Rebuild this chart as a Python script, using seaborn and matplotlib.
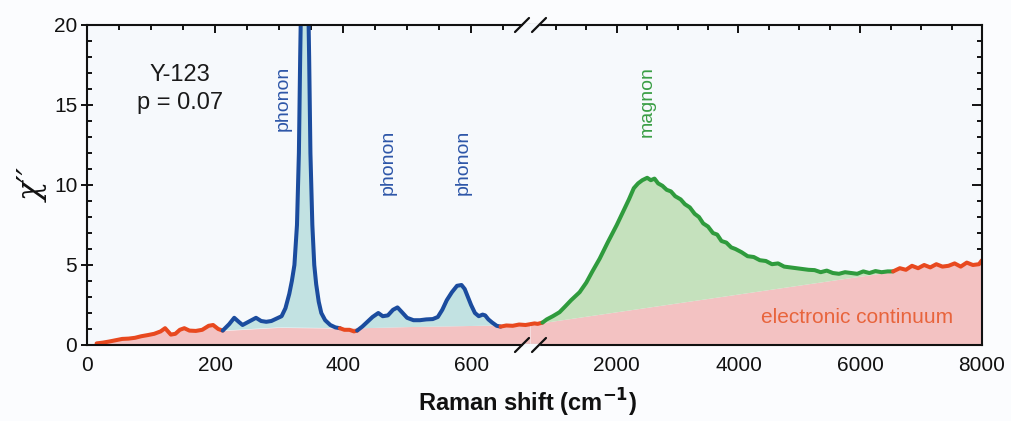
import numpy as np
import matplotlib
matplotlib.use("Agg")
import matplotlib.pyplot as plt
from matplotlib.lines import Line2D
from matplotlib.ticker import MultipleLocator
import seaborn as sns

# ---- data (Raman shift in cm-1, chi'') ----
# low-energy part (0 - 700 cm-1)
red1_x = [15, 25, 35, 45, 55, 65, 75, 85, 95, 105, 115, 122, 131, 138, 145, 152, 160, 170, 180, 190, 197, 205, 212]
red1_y = [0.10, 0.15, 0.22, 0.30, 0.38, 0.40, 0.45, 0.55, 0.62, 0.70, 0.85, 1.05, 0.65, 0.70, 0.95, 1.05, 0.90, 0.88, 0.95, 1.20, 1.25, 1.00, 0.90]

blue1_x = [212, 222, 230, 237, 243, 250, 257, 264, 272, 280, 288, 296, 304, 310, 316, 320, 324, 328, 331, 333,
           335, 340, 345, 347, 349, 352, 355, 358, 362, 366, 372, 380, 388, 395]
blue1_y = [0.90, 1.30, 1.70, 1.45, 1.25, 1.40, 1.55, 1.70, 1.50, 1.45, 1.50, 1.65, 1.80, 2.30, 3.20, 4.00, 5.00, 7.50, 12.0, 18.0,
           23.0, 28.0, 23.0, 18.0, 12.0, 7.50, 5.00, 3.80, 2.70, 2.00, 1.55, 1.25, 1.10, 1.05]

red2_x = [395, 402, 410, 417, 422]
red2_y = [1.05, 0.95, 0.95, 0.85, 0.90]

blue2_x = [422, 430, 438, 446, 455, 462, 470, 478, 485, 492, 500, 510, 520, 530, 540, 548, 555, 562, 570, 578,
           585, 590, 595, 600, 606, 612, 618, 622, 627, 633, 640, 646]
blue2_y = [0.90, 1.15, 1.45, 1.75, 2.00, 1.80, 1.85, 2.20, 2.35, 2.05, 1.70, 1.55, 1.55, 1.60, 1.62, 1.75, 2.20, 2.80, 3.30, 3.70,
           3.75, 3.50, 3.00, 2.50, 2.00, 1.80, 1.90, 1.85, 1.60, 1.40, 1.20, 1.15]

red3_x = [646, 655, 665, 675, 685, 695, 700]
red3_y = [1.15, 1.22, 1.20, 1.28, 1.25, 1.32, 1.30]

# electronic continuum under the phonons
cont_lo_x = [300, 400, 500, 600, 700]
cont_lo_y = [1.10, 1.05, 1.15, 1.22, 1.30]

# high-energy part (575 - 8000 cm-1)
red4_x = [575, 650, 700, 780]
red4_y = [1.30, 1.35, 1.32, 1.40]

green_x = [780, 850, 950, 1060, 1150, 1250, 1390, 1500, 1600, 1720, 1850, 2000, 2100, 2200, 2280, 2350, 2420, 2500, 2560, 2620,
           2680, 2750, 2820, 2890, 2960, 3050, 3120, 3200, 3280, 3350, 3420, 3500, 3580, 3650, 3720, 3800, 3880, 3950, 4050, 4150,
           4250, 4350, 4450, 4550, 4650, 4750, 4850, 4950, 5050, 5150, 5250, 5350, 5450, 5550, 5650, 5750, 5850, 5950, 6050, 6150,
           6250, 6350, 6450, 6540]
green_y = [1.40, 1.60, 1.80, 2.05, 2.40, 2.80, 3.30, 3.90, 4.60, 5.40, 6.40, 7.50, 8.30, 9.10, 9.80, 10.10, 10.30, 10.45, 10.30, 10.40,
           10.10, 9.95, 9.70, 9.60, 9.30, 9.10, 8.80, 8.60, 8.20, 8.00, 7.60, 7.40, 7.00, 6.90, 6.50, 6.40, 6.10, 6.00, 5.80, 5.55,
           5.50, 5.30, 5.25, 5.05, 5.10, 4.90, 4.85, 4.80, 4.75, 4.70, 4.68, 4.55, 4.65, 4.50, 4.45, 4.55, 4.50, 4.45, 4.60, 4.50,
           4.62, 4.55, 4.60, 4.60]

red5_x = [6540, 6650, 6750, 6850, 6950, 7050, 7150, 7250, 7350, 7450, 7550, 7650, 7750, 7850, 7950, 8000]
red5_y = [4.60, 4.80, 4.70, 4.95, 4.80, 5.00, 4.85, 5.05, 4.90, 4.95, 5.10, 4.90, 5.15, 5.00, 5.05, 5.30]

cont_hi_x = [575, 780]
cont_hi_y = [1.30, 1.40]

# ---- style ----
RED = "#e8491f"
BLUE = "#1b4c9e"
GREEN = "#2f9b3d"
RED_FILL = "#f3c2c2"
BLUE_FILL = "#c2e2e2"
GREEN_FILL = "#c5e1bd"
BG = "#f6f9fc"
INK = "#111111"

sns.set_theme(style="ticks")
plt.rcParams["font.family"] = ["Liberation Sans", "DejaVu Sans"]

W, H = 1011, 421
fig = plt.figure(figsize=(W / 100, H / 100), dpi=100, facecolor="#fbfcfe")

x0, xb, x1 = 87, 530, 982
ytop, ybot = 25, 345
ax1 = fig.add_axes([x0 / W, 1 - ybot / H, (xb - x0) / W, (ybot - ytop) / H])
ax2 = fig.add_axes([xb / W, 1 - ybot / H, (x1 - xb) / W, (ybot - ytop) / H], sharey=ax1)

LW = 2.9

# electronic continuum: one red area per panel
base_lo_x = red1_x + cont_lo_x
base_lo_y = red1_y + cont_lo_y
base_hi_x = cont_hi_x + red5_x
base_hi_y = cont_hi_y + red5_y
ax1.fill_between(base_lo_x, 0, base_lo_y, color=RED_FILL, lw=0)
ax2.fill_between(base_hi_x, 0, base_hi_y, color=RED_FILL, lw=0)

# phonon / magnon areas above the continuum
for bx, by in [(blue1_x, blue1_y), (blue2_x, blue2_y)]:
    ax1.fill_between(bx, np.interp(bx, base_lo_x, base_lo_y), by, color=BLUE_FILL, lw=0)
ax2.fill_between(green_x, np.interp(green_x, base_hi_x, base_hi_y), green_y, color=GREEN_FILL, lw=0)

# spectrum
for sx, sy, c in [(red1_x, red1_y, RED), (blue1_x, blue1_y, BLUE), (red2_x, red2_y, RED),
                  (blue2_x, blue2_y, BLUE), (red3_x, red3_y, RED)]:
    sns.lineplot(x=sx, y=sy, ax=ax1, color=c, lw=LW, sort=False, solid_joinstyle="round")
for sx, sy, c in [(red4_x, red4_y, RED), (green_x, green_y, GREEN), (red5_x, red5_y, RED)]:
    sns.lineplot(x=sx, y=sy, ax=ax2, color=c, lw=LW, sort=False, solid_joinstyle="round")

ax1.set_xlim(0, 692)
ax2.set_xlim(575, 8000)
ax1.set_ylim(0, 20)

for ax in (ax1, ax2):
    ax.set_facecolor(BG)
    for s in ax.spines.values():
        s.set_linewidth(1.5)
        s.set_color(INK)
    ax.yaxis.set_major_locator(MultipleLocator(5))
    ax.yaxis.set_minor_locator(MultipleLocator(1))
    ax.tick_params(which="both", direction="in", top=True, width=1.4, colors=INK,
                   labelsize=15, labelcolor=INK)
    ax.tick_params(which="major", length=6)
    ax.tick_params(which="minor", length=3.5)
    ax.tick_params(axis="x", pad=8)

ax1.spines["right"].set_visible(False)
ax2.spines["left"].set_visible(False)
ax1.tick_params(axis="y", which="both", right=False)
ax1.tick_params(axis="y", which="major", length=8, direction="inout", pad=3)
ax2.tick_params(axis="y", which="both", left=False, labelleft=False, right=True)
ax2.tick_params(axis="y", which="major", length=7)

ax1.xaxis.set_major_locator(MultipleLocator(200))
ax1.xaxis.set_minor_locator(MultipleLocator(50))
ax2.set_xticks([2000, 4000, 6000, 8000])
ax2.xaxis.set_minor_locator(MultipleLocator(500))

ax1.set_xlabel("")
ax2.set_xlabel("")
ax1.set_ylabel("χ′′", family="DejaVu Serif", style="italic", fontsize=23, color=INK)
ax1.yaxis.set_label_coords(-0.085, 0.5)
fig.text(527 / W, 1 - 403 / H, "Raman shift (cm$^{\\mathbf{-1}}$)", ha="center", va="center",
         fontsize=17, fontweight="bold", color=INK)

# annotations
ax1.text(145, 16.9, "Y-123", ha="center", va="center", fontsize=17, color="#1a1a1a")
ax1.text(145, 15.1, "p = 0.07", ha="center", va="center", fontsize=17, color="#1a1a1a")
ax1.text(306, 15.4, "phonon", rotation=90, ha="center", va="center", fontsize=14, color="#2d56a8")
ax1.text(470, 11.4, "phonon", rotation=90, ha="center", va="center", fontsize=14, color="#2d56a8")
ax1.text(587, 11.4, "phonon", rotation=90, ha="center", va="center", fontsize=14, color="#2d56a8")
ax2.text(2496, 15.2, "magnon", rotation=90, ha="center", va="center", fontsize=14, color="#3a9e45")
ax2.text(5944, 1.7, "electronic continuum", ha="center", va="center", fontsize=15, color="#e8643c")

# axis break marks
for yp in (ytop, ybot):
    fig.add_artist(Line2D([524 / W, 538 / W], [1 - yp / H, 1 - yp / H], color=BG, lw=2.5))
    for xc in (522, 539):
        fig.add_artist(Line2D([(xc - 7) / W, (xc + 7) / W], [1 - (yp + 7) / H, 1 - (yp - 7) / H],
                              color=INK, lw=1.6))

fig.savefig("out.png", dpi=100, facecolor=fig.get_facecolor())
